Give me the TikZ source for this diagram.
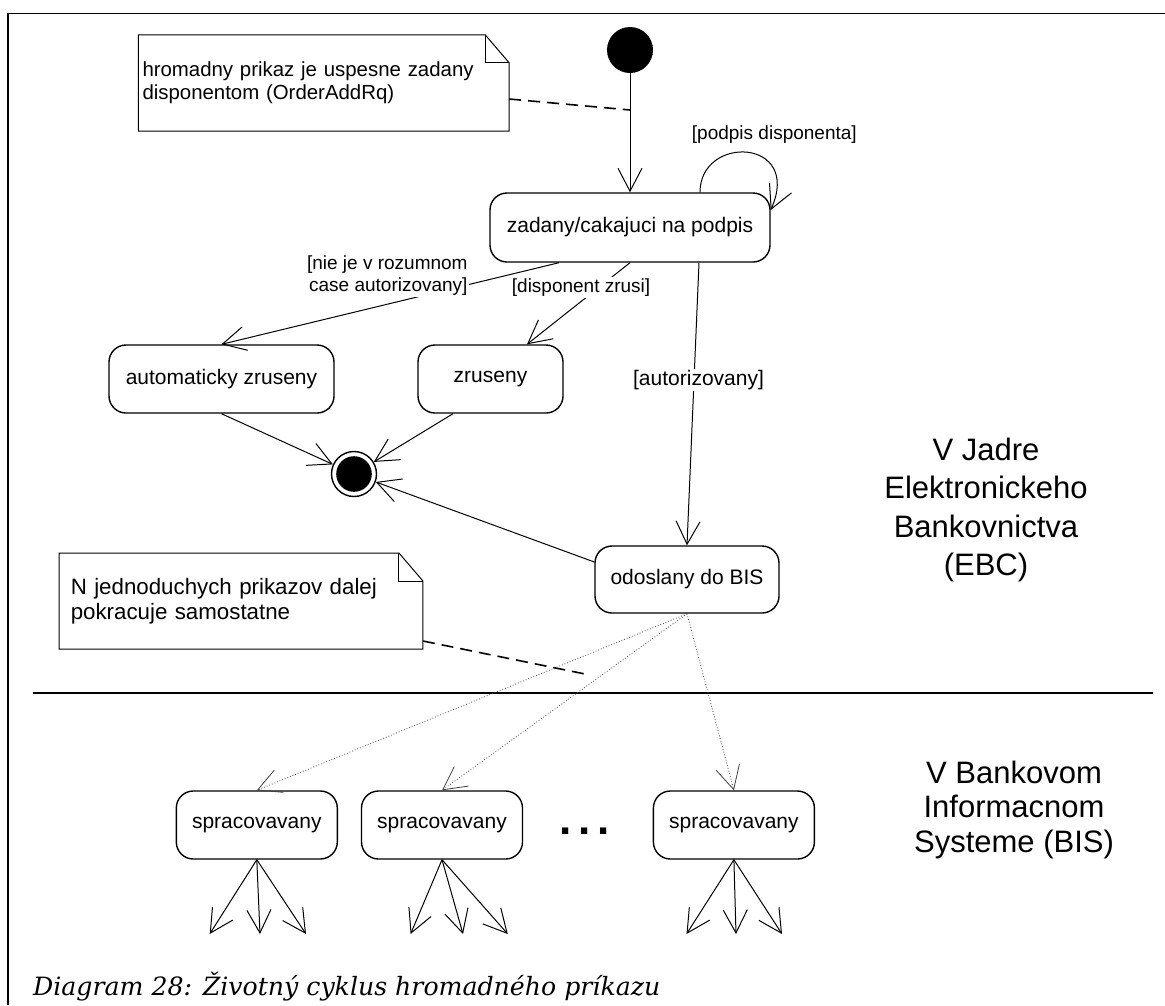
\documentclass[tikz,border=0pt]{standalone}
\usepackage{fontspec}
\setmainfont{Liberation Sans}
\newfontfamily\capfont{DejaVu Serif}
\usetikzlibrary{arrows.meta}

\begin{document}
\begin{tikzpicture}[
  x=1pt, y=-1pt,
  state/.style={draw, line width=1.4pt, rounded corners=17pt, minimum height=68pt,
                inner sep=0pt, font=\fontsize{21}{24}\selectfont},
  guard/.style={fill=white, inner sep=1.5pt, font=\fontsize{19}{22}\selectfont},
  note/.style={inner ysep=0pt, align=left, font=\fontsize{20.4}{23}\selectfont},
  notelink/.style={line width=1.6pt, dash pattern=on 12pt off 7pt},
  trans/.style={->, line width=1pt},
  spawn/.style={->, line width=0.8pt, dash pattern=on 0.8pt off 2pt, black!75},
  lane/.style={align=center, inner sep=0pt},
  >={Straight Barb[length=23pt, width=24pt]}
]
\useasboundingbox (0,0) rectangle (1165,1005);

%─── Frame ────────────────────────────────────────────────────────────────
\draw[line width=1.8pt] (8,1005) -- (8,13.5) -- (1165,13.5);
\draw[line width=1.8pt] (32.5,693) -- (1153,693);

%─── States (EBC) ─────────────────────────────────────────────────────────
\node[circle, fill, minimum size=46pt, inner sep=0pt] (init) at (630,50) {};
\node[state, minimum width=280pt, minimum height=69pt] (zad) at (630,227.5)
  {zadany/cakajuci na podpis};
\node[state, minimum width=225pt] (auto) at (221.5,379) {automaticky zruseny};
\node[state, minimum width=145pt] (zru) at (490.5,379) {zruseny};
\node[state, minimum width=184pt, minimum height=67pt] (odos) at (687,579.5)
  {odoslany do BIS};
\node[circle, draw, line width=1.4pt, minimum size=45pt, inner sep=0pt] (fin)
  at (354,474) {};
\fill (fin.center) circle[radius=17.8pt];

% notes
\node[note, text width=362.5pt, inner xsep=4pt, minimum height=96pt] (n1)
  at (323.75,83) {hromadny prikaz je uspesne zadany\\disponentom (OrderAddRq)};
\draw[line width=1pt] (n1.south west) -- (n1.north west) -- ([xshift=-24pt]n1.north east)
  -- ([yshift=-28pt]n1.north east) -- (n1.south east) -- cycle;
\draw[line width=1pt] ([xshift=-24pt]n1.north east) |- ([yshift=-28pt]n1.north east);

\node[note, text width=340.5pt, inner xsep=11.5pt, minimum height=95.6pt,
  font=\fontsize{22.3}{25}\selectfont] (n2)
  at (241,601) {N jednoduchych prikazov dalej\\pokracuje samostatne};
\draw[line width=1pt] (n2.south west) -- (n2.north west) -- ([xshift=-24pt]n2.north east)
  -- ([yshift=-28pt]n2.north east) -- (n2.south east) -- cycle;
\draw[line width=1pt] ([xshift=-24pt]n2.north east) |- ([yshift=-28pt]n2.north east);

\coordinate (n1hit) at (630,110);
\coordinate (n2hit) at (590,675);
\draw[notelink] ([yshift=-16pt]n1.east) -- (n1hit);
\draw[notelink] ([yshift=-40pt]n2.east) -- (n2hit);

% transitions
\draw[trans] (init) -- (init |- zad.north);
\draw[trans] ([xshift=70pt]zad.north) .. controls +(0,-58) and +(32,-72) ..
  ([yshift=17.5pt]zad.east)
  node[guard, fill=none, pos=0.5, above=6.5pt, xshift=27pt] {[podpis disponenta]};
\draw[trans] ([xshift=-71pt]zad.south) --
  node[guard, pos=0.265, anchor=east, yshift=9pt, align=right]
  {[nie je v rozumnom\\case autorizovany]} (auto.north);
\draw[trans] (zad.south) --
  node[guard, pos=0.3, xshift=-18pt] {[disponent zrusi]} ([xshift=36.5pt]zru.north);
\draw[trans] ([xshift=69pt]zad.south) --
  node[guard, pos=0.415, xshift=4.5pt, font=\fontsize{21}{24}\selectfont]
  {[autorizovany]} (odos.north);
\draw[trans] (auto.south) -- (fin);
\draw[trans] ([xshift=-37.5pt]zru.south) -- (fin);
\draw[trans] ([yshift=17.5pt]odos.west) -- (fin);

\node[lane, font=\fontsize{31}{38.5}\selectfont] (ebc) at (986,510)
  {V Jadre\\Elektronickeho\\Bankovnictva\\(EBC)};

%─── States (BIS) ─────────────────────────────────────────────────────────
\node[state, minimum width=161pt] (sp1) at (256.8,825) {spracovavany};
\node[state, minimum width=161pt] (sp2) at (442,825) {spracovavany};
\node[state, minimum width=161pt] (sp3) at (733.9,825) {spracovavany};
\node[font=\fontsize{44}{44}\selectfont\bfseries, anchor=base] (dots) at (585,834)
  {.\kern6.8pt.\kern6.8pt.};

\draw[spawn] (odos.south) -- (sp1.north);
\draw[spawn] (odos.south) -- (sp2.north);
\draw[spawn] (odos.south) -- (sp3.north);

% outgoing
\coordinate (f11) at (209.7,934);
\coordinate (f12) at (260,934);
\coordinate (f13) at (306,934);
\coordinate (f21) at (410.6,934);
\coordinate (f22) at (463,934);
\coordinate (f23) at (507.8,934);
\coordinate (f31) at (686.5,934);
\coordinate (f32) at (736,934);
\coordinate (f33) at (782,934);
\draw[trans] (sp1.south) -- (f11);
\draw[trans] (sp1.south) -- (f12);
\draw[trans] (sp1.south) -- (f13);
\draw[trans] (sp2.south) -- (f21);
\draw[trans] (sp2.south) -- (f22);
\draw[trans] (sp2.south) -- (f23);
\draw[trans] (sp3.south) -- (f31);
\draw[trans] (sp3.south) -- (f32);
\draw[trans] (sp3.south) -- (f33);

\node[lane, font=\fontsize{31}{34.5}\selectfont] (bis) at (1014,809.5)
  {V Bankovom\\Informacnom\\Systeme (BIS)};

%─── Caption ──────────────────────────────────────────────────────────────
\node[anchor=base west, inner sep=0pt, font=\capfont\itshape\fontsize{25.2}{29}\selectfont]
  (cap) at (33,995) {Diagram 28: Životný cyklus hromadného príkazu};

\end{tikzpicture}
\end{document}
